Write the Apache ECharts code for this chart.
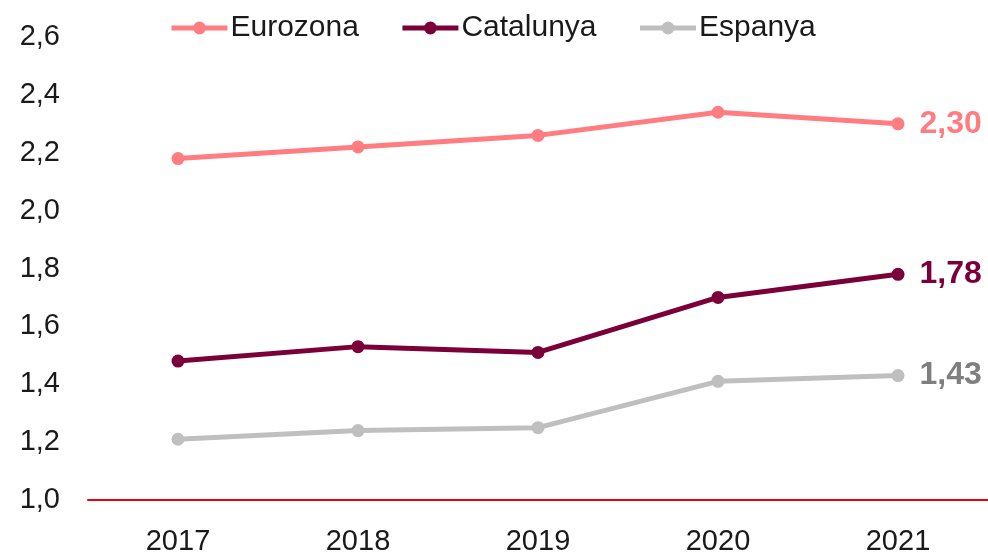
<!DOCTYPE html>
<html><head><meta charset="utf-8">
<script src="https://cdn.jsdelivr.net/npm/echarts@6/dist/echarts.min.js"></script>
<style>html,body{margin:0;padding:0;background:#fff}#c{width:988px;height:555px}</style>
</head><body><div id="c"></div>
<script>
const categories = ['2017','2018','2019','2020','2021'];
const eurozona = [2.18, 2.22, 2.26, 2.34, 2.30];
const catalunya = [1.48, 1.53, 1.51, 1.70, 1.78];
const espanya = [1.21, 1.24, 1.25, 1.41, 1.43];
const seriesNames = ['Eurozona','Catalunya','Espanya'];
const lineColors = ['#ff7c80','#7b0039','#bfbfbf'];
const labelColors = ['#ff7c80','#7b0039','#7f7f7f'];
const FONT = 'Liberation Sans';
const fmt = v => v.toFixed(2).replace('.', ',');
function mk(name, data, i){
  return {
    name, type:'line', data: data.map((v,j)=> j===data.length-1 ? {value:v, label:{show:true}} : v),
    symbol:'circle', symbolSize:13, lineStyle:{width:5, color:lineColors[i]},
    itemStyle:{color:lineColors[i]},
    label:{show:false, position:'right', distance:15, fontFamily:FONT, fontSize:32, fontWeight:'bold',
      color:labelColors[i], formatter:p=>fmt(p.value)},
    emphasis:{disabled:true}, animation:false
  };
}
const chart = echarts.init(document.getElementById('c'));
chart.setOption({
  animation:false,
  legend:{top:8, left:164, itemWidth:56, itemHeight:16, itemGap:41,
    lineStyle:{width:5},
    textStyle:{fontFamily:FONT, fontSize:30, color:'#1a1a1a', padding:[0,0,0,-2]},
    data:seriesNames},
  grid:{left:88, right:0, top:37, bottom:55, containLabel:false, outerBoundsMode:'none'},
  xAxis:{type:'category', data:categories, boundaryGap:true,
    axisLine:{show:true, lineStyle:{color:'#e8000b', width:2}}, axisTick:{show:false},
    axisLabel:{fontFamily:FONT, fontSize:29, color:'#1a1a1a', margin:27}},
  yAxis:{type:'value', min:1.0, max:2.6, interval:0.2,
    axisLine:{show:false}, axisTick:{show:false}, splitLine:{show:false},
    axisLabel:{fontFamily:FONT, fontSize:29, color:'#1a1a1a', margin:28, formatter:v=>v.toFixed(1).replace('.', ',')}},
  series:[mk('Eurozona',eurozona,0), mk('Catalunya',catalunya,1), mk('Espanya',espanya,2)]
});
</script></body></html>
